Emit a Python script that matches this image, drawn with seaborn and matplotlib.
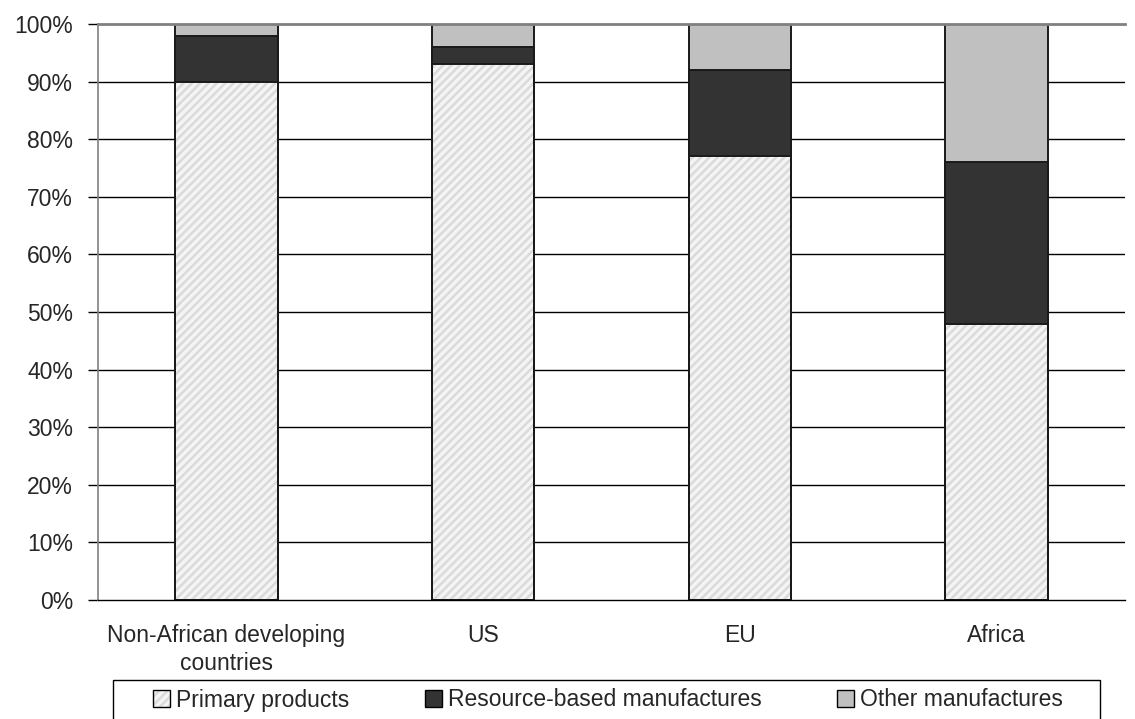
import matplotlib
matplotlib.use("Agg")
import matplotlib.pyplot as plt
import seaborn as sns
import pandas as pd
import numpy as np
from matplotlib.patches import Patch, Rectangle

categories = ["Non-African developing\ncountries", "US", "EU", "Africa"]
primary = [90, 93, 77, 48]
resource = [8, 3, 15, 28]
other = [2, 4, 8, 24]
series_names = ["Primary products", "Resource-based manufactures", "Other manufactures"]
yticks = [0, 10, 20, 30, 40, 50, 60, 70, 80, 90, 100]

sns.set_style("white")
plt.rcParams['font.family'] = ['Liberation Sans', 'DejaVu Sans']
plt.rcParams['hatch.linewidth'] = 1.8

HATCH_C = '#dadada'
PRIM_C = '#f4f4f4'
RES_C = '#333333'
OTH_C = '#c0c0c0'
EDGE = '#1a1a1a'
FS = 16.5

fig = plt.figure(figsize=(11.35, 7.19), dpi=100)
ax = fig.add_axes([98/1135, 1-600/719, (1125-98)/1135, (600-24)/719])

df = pd.DataFrame({"cat": categories, "p": primary, "r": resource, "o": other})
df["c1"] = df["p"]
df["c2"] = df["p"] + df["r"]
df["c3"] = df["c2"] + df["o"]

# fills
for col, face, hatch, ec in [("c3", OTH_C, None, OTH_C), ("c2", RES_C, None, RES_C),
                             ("c1", PRIM_C, "////", HATCH_C)]:
    sns.barplot(data=df, x="cat", y=col, ax=ax, color=face, width=0.4,
                edgecolor=ec, linewidth=0, saturation=1, errorbar=None,
                hatch=hatch)
# outlines
for col in ["c3", "c2", "c1"]:
    sns.barplot(data=df, x="cat", y=col, ax=ax, color=EDGE, width=0.4, fill=False,
                linewidth=1.4, saturation=1, errorbar=None)

# gridlines
for v in yticks[1:-1]:
    ax.axhline(v, color="black", lw=1.0, zorder=0)
ax.set_ylim(0, 100)
ax.set_xlim(-0.5, 3.5)
ax.set_yticks(yticks)
ax.set_yticklabels([f"{v}%" for v in yticks], fontsize=FS)
ax.set_xticks(range(4))
ax.set_xticklabels(categories, fontsize=FS, linespacing=1.28)
ax.set_xticks([-0.5, 0.5, 1.5, 2.5, 3.5], minor=True)
ax.tick_params(axis='x', which='major', length=0, pad=17)
ax.tick_params(axis='x', which='minor', length=6, width=1, color='black', direction='out')
ax.tick_params(axis='y', length=7, width=1, color='black', direction='out', left=True, pad=11)
ax.set_xlabel("")
ax.set_ylabel("")
ax.spines["left"].set_color("#808080")
ax.spines["left"].set_linewidth(1.2)
ax.spines["bottom"].set_color("black")
ax.spines["bottom"].set_linewidth(1.0)
ax.spines["right"].set_visible(False)
ax.spines["top"].set_color("#808080")
ax.spines["top"].set_linewidth(2)

h_prim = (Patch(facecolor=PRIM_C, edgecolor=HATCH_C, hatch="////", linewidth=0),
          Patch(facecolor="none", edgecolor="black", linewidth=1.0))
h_res = Patch(facecolor=RES_C, edgecolor="black", linewidth=1.0)
h_oth = Patch(facecolor=OTH_C, edgecolor="black", linewidth=1.0)
yc = 1 - 700/719
leg = fig.legend(handles=[h_prim, h_res, h_oth], labels=series_names,
                 loc="center left", ncol=3,
                 bbox_to_anchor=(153/1135, yc - 0.01, (1063-153)/1135, 0.02),
                 mode="expand", fontsize=FS, frameon=False,
                 handlelength=0.75, handleheight=0.75,
                 handletextpad=0.25, borderaxespad=0, borderpad=0)

fig.add_artist(Rectangle((113/1135, -0.05), (1100-113)/1135, 1-680/719+0.05,
                         transform=fig.transFigure, fill=False, edgecolor="black",
                         linewidth=1.0))

fig.savefig("out.png", dpi=100)
